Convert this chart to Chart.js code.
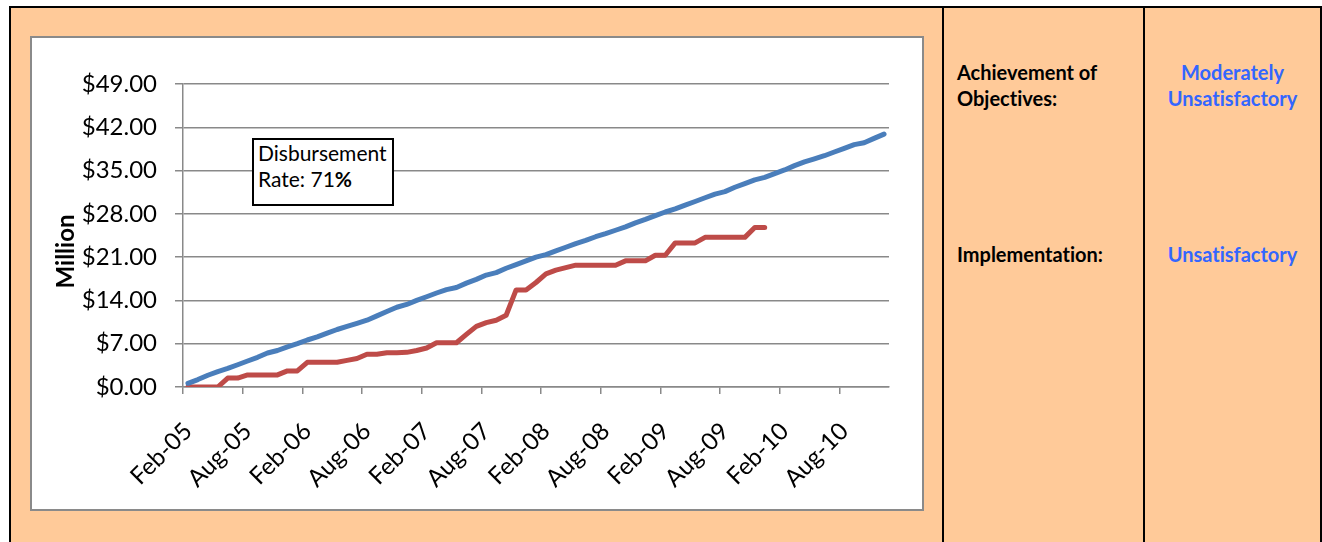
<!DOCTYPE html>
<html>
<head>
<meta charset="utf-8">
<script src="https://cdn.jsdelivr.net/npm/chart.js@4.4.1/dist/chart.umd.min.js"></script>
<style>
  body { margin: 0; width: 1322px; height: 542px; overflow: hidden; position: relative; background: #fff;
         font-family: Lato, sans-serif; font-variant-ligatures: none; }
  #frame { position: absolute; left: 9px; top: 6px; width: 1309px; height: 540px; background: #FFCA99;
           border-top: 2px solid #000; border-left: 2px solid #000; border-right: 2px solid #000; }
  .vline { position: absolute; top: 6px; bottom: 0; width: 2px; background: #000; }
  #box { position: absolute; left: 30px; top: 36px; width: 890px; height: 471px; border: 2px solid #8a8a8a; background: #fff; }
  #note { position: absolute; left: 252px; top: 138px; width: 142px; height: 68px; box-sizing: border-box;
          border: 2px solid #000; background: #fff; padding: 0 0 0 4px; font-size: 21px; line-height: 26px; color: #000; }
  .lbl { position: absolute; font-weight: bold; font-size: 20px; line-height: 26px; color: #000; }
  .val { position: absolute; left: 1145px; width: 175px; text-align: center; font-weight: bold; font-size: 20px; line-height: 26px; color: #3366FF; }
</style>
</head>
<body>
<div id="frame"></div>
<div class="vline" style="left:942px"></div>
<div class="vline" style="left:1143px"></div>

<div id="box"><canvas id="chart" width="890" height="471"></canvas></div>
<div id="note">Disbursement<br>Rate: 71<b>%</b></div>

<div class="lbl" style="left:957px; top:59px">Achievement of<br>Objectives:</div>
<div class="val" style="top:59px">Moderately<br>Unsatisfactory</div>
<div class="lbl" style="left:957px; top:241px">Implementation:</div>
<div class="val" style="top:241px">Unsatisfactory</div>

<script>
// monthly categories, Feb-05 .. Dec-10
const monthNames = ['Jan', 'Feb', 'Mar', 'Apr', 'May', 'Jun', 'Jul', 'Aug', 'Sep', 'Oct', 'Nov', 'Dec'];
const months = [];
for (let i = 0; i < 71; i++) {
  const m = 1 + i;
  months.push(monthNames[m % 12] + '-' + String(5 + Math.floor(m / 12)).padStart(2, '0'));
}

// labelled months on the axis (every six months)
const labelledMonths = [0, 6, 12, 18, 24, 30, 36, 42, 48, 54, 60, 66];

// cumulative planned disbursement ($ million)
const planned = [
  0.6, 1.2, 1.9, 2.5, 3.0, 3.6, 4.2, 4.8, 5.5, 5.9,
  6.5, 7.0, 7.6, 8.1, 8.7, 9.3, 9.8, 10.3, 10.8, 11.5,
  12.2, 12.9, 13.35, 14.0, 14.6, 15.2, 15.75, 16.1, 16.8, 17.4,
  18.1, 18.5, 19.2, 19.8, 20.4, 21.0, 21.4, 22.0, 22.6, 23.2,
  23.7, 24.3, 24.8, 25.35, 25.9, 26.55, 27.1, 27.7, 28.3, 28.8,
  29.4, 30.0, 30.6, 31.2, 31.6, 32.3, 32.9, 33.5, 33.9, 34.5,
  35.1, 35.8, 36.4, 36.9, 37.4, 38.0, 38.6, 39.2, 39.5, 40.2, 40.9
];

// cumulative actual disbursement ($ million), through Dec-09
const actual = [
  0, 0, 0, 0, 1.45, 1.45, 1.95, 1.95, 1.95, 1.95,
  2.6, 2.6, 4.0, 4.0, 4.0, 4.0, 4.3, 4.6, 5.3, 5.3,
  5.55, 5.55, 5.6, 5.9, 6.3, 7.15, 7.15, 7.15, 8.5, 9.8,
  10.4, 10.8, 11.6, 15.7, 15.7, 16.9, 18.3, 18.9, 19.3, 19.7,
  19.7, 19.7, 19.7, 19.7, 20.4, 20.4, 20.4, 21.3, 21.3, 23.3,
  23.3, 23.3, 24.2, 24.2, 24.2, 24.2, 24.2, 25.8, 25.8
];

const yMax = 49;
const yStep = 7;

const gridGrey = '#898989';

// vertical "Million" axis caption
const axisCaption = {
  id: 'axisCaption',
  afterDraw(chart) {
    const { ctx, chartArea } = chart;
    ctx.save();
    ctx.font = 'bold 24px Lato';
    ctx.fillStyle = '#000';
    ctx.textAlign = 'center';
    ctx.textBaseline = 'middle';
    ctx.translate(chartArea.left - 117, (chartArea.top + chartArea.bottom) / 2 + 16);
    ctx.rotate(-Math.PI / 2);
    ctx.fillText('Million', 0, 0);
    ctx.restore();
  }
};

const toPoints = (arr) => arr.map((v, i) => ({ x: i, y: v }));

new Chart(document.getElementById('chart'), {
  type: 'line',
  data: {
    datasets: [
      { label: 'Planned', data: toPoints(planned), borderColor: '#4A7EBB' },
      { label: 'Actual', data: toPoints(actual), borderColor: '#BE4B48' }
    ]
  },
  options: {
    responsive: false,
    animation: false,
    layout: { padding: { left: 0, top: 46, right: 33, bottom: 0 } },
    elements: {
      line: { borderWidth: 5, tension: 0, borderCapStyle: 'round', borderJoinStyle: 'round' },
      point: { radius: 0, hoverRadius: 0 }
    },
    plugins: { legend: { display: false }, tooltip: { enabled: false } },
    scales: {
      x: {
        type: 'linear',
        // each month occupies one slot; ticks sit on slot edges
        min: -0.5,
        max: months.length - 0.5,
        afterFit: (scale) => { scale.height = 122; },
        afterBuildTicks: (scale) => { scale.ticks = labelledMonths.map((m) => ({ value: m - 0.5 })); },
        grid: { drawOnChartArea: false, tickLength: 7, lineWidth: 1.5, color: gridGrey },
        border: { display: true, color: gridGrey, width: 1.5 },
        ticks: {
          autoSkip: false,
          maxRotation: 45,
          minRotation: 45,
          padding: 23,
          labelOffset: 5,
          color: '#000',
          font: { family: 'Lato', size: 24 },
          callback: (v) => months[Math.round(v + 0.5)]
        }
      },
      y: {
        min: 0,
        max: yMax,
        afterFit: (scale) => { scale.width = 151; },
        grid: { color: gridGrey, lineWidth: 1.5, tickLength: 8 },
        border: { display: true, color: gridGrey, width: 1.5 },
        ticks: {
          stepSize: yStep,
          padding: 18,
          color: '#000',
          font: { family: 'Lato', size: 24 },
          callback: (v) => '$' + v.toFixed(2)
        }
      }
    }
  },
  plugins: [axisCaption]
});
</script>
</body>
</html>
